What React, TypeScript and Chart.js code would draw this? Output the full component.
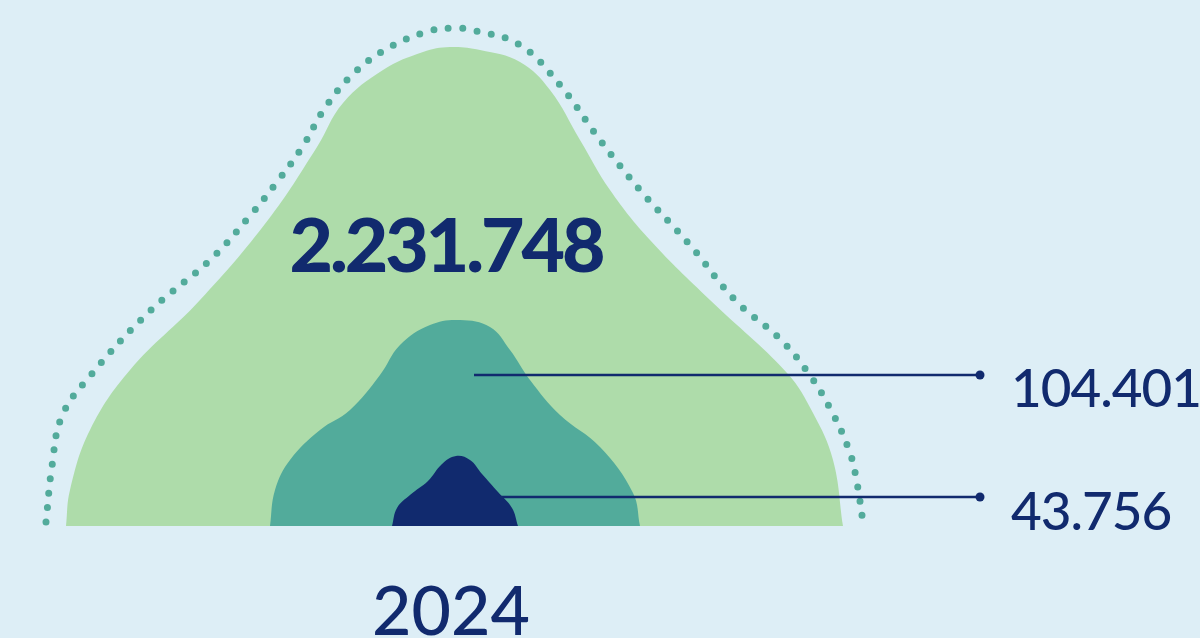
import React, { useEffect, useRef } from "react";
import { Chart, registerables } from "chart.js";

Chart.register(...registerables);

// Shape profiles: x position and height above the baseline
const outlineX = [46, 52, 62, 90, 150, 210, 249, 277, 303, 323, 349, 383, 423, 451, 476, 520, 560, 600, 640, 690, 735, 780, 809, 832, 850, 857, 863];
const outlineH = [4, 60, 110, 150, 215, 266, 309, 344, 380, 415, 448, 475, 493, 498, 495, 481, 441, 386, 336, 281, 226, 187, 152, 114, 73, 43, 4];

const bigX = [66, 70, 90, 130, 200, 268, 317, 343, 383, 423, 450, 480, 520, 550, 580, 610, 650, 710, 787, 813, 833, 843];
const bigH = [0, 36, 96, 156, 226, 306, 379, 423, 456, 474, 479, 476, 464, 436, 386, 336, 286, 226, 153, 113, 66, 0];

const midX = [270, 275, 290, 320, 350, 380, 400, 430, 460, 490, 510, 530, 560, 600, 633, 640];
const midH = [0, 36, 66, 96, 116, 151, 181, 201, 206, 199, 176, 146, 111, 79, 33, 0];

const smallX = [392, 397, 410, 428, 442, 456, 470, 482, 498, 512, 518];
const smallH = [0, 18, 31, 45, 62, 70, 66, 52, 34, 18, 0];

const categories = ["Total", "Segment A", "Segment B"];
const values = ["2.231.748", "104.401", "43.756"];
const yearLabel = "2024";

const leaderStartX = [474, 500];
const leaderEndX = [980, 980];
const leaderH = [151, 29];

const NAVY = "#112a6e";
const GREEN = "#aedcaa";
const TEAL = "#52ab9b";
const BG = "#ddeef6";

const toPts = (xs: number[], hs: number[]) => xs.map((x, i) => ({ x, y: hs[i] }));

export default function App() {
  const ref = useRef<HTMLCanvasElement | null>(null);

  useEffect(() => {
    document.body.style.margin = "0";
    const canvas = ref.current;
    if (!canvas) return;

    const labelPlugin = {
      id: "labels",
      afterDraw(chart: any) {
        const { ctx, scales } = chart;
        const xs = scales.x;
        const ys = scales.y;
        ctx.save();
        ctx.fillStyle = NAVY;
        ctx.textBaseline = "alphabetic";
        // main value
        ctx.font = "900 75px Lato";
        (ctx as any).letterSpacing = "-3px";
        ctx.textAlign = "center";
        ctx.fillText(values[0], xs.getPixelForValue(446), ys.getPixelForValue(254));
        // side values
        ctx.font = "500 53px Lato";
        (ctx as any).letterSpacing = "-1px";
        ctx.textAlign = "left";
        ctx.fillText(values[1], xs.getPixelForValue(1011), ys.getPixelForValue(leaderH[0] - 32));
        ctx.fillText(values[2], xs.getPixelForValue(1011), ys.getPixelForValue(leaderH[1] - 33));
        // year
        ctx.font = "500 68px Lato";
        (ctx as any).letterSpacing = "0px";
        ctx.textAlign = "center";
        ctx.fillText(yearLabel, xs.getPixelForValue(451), ys.getPixelForValue(-109));
        ctx.restore();
      },
    };

    const chart = new Chart(canvas, {
      type: "scatter",
      data: {
        datasets: [
          ...leaderH.map((h, i) => ({
            label: categories[i + 1] + " leader",
            data: [
              { x: leaderStartX[i], y: h },
              { x: leaderEndX[i], y: h },
            ],
            showLine: true,
            borderColor: NAVY,
            backgroundColor: NAVY,
            borderWidth: 2.5,
            pointRadius: [0, 4.5],
            pointBorderWidth: 0,
            fill: false,
            tension: 0,
          })),
          {
            label: categories[2],
            data: toPts(smallX, smallH),
            showLine: true,
            borderWidth: 0,
            borderColor: NAVY,
            backgroundColor: NAVY,
            pointRadius: 0,
            fill: "origin",
            tension: 0.4,
          },
          {
            label: categories[1],
            data: toPts(midX, midH),
            showLine: true,
            borderWidth: 0,
            borderColor: TEAL,
            backgroundColor: TEAL,
            pointRadius: 0,
            fill: "origin",
            tension: 0.4,
          },
          {
            label: categories[0],
            data: toPts(bigX, bigH),
            showLine: true,
            borderWidth: 0,
            borderColor: GREEN,
            backgroundColor: GREEN,
            pointRadius: 0,
            fill: "origin",
            tension: 0.4,
          },
          {
            label: "outline",
            data: toPts(outlineX, outlineH),
            showLine: true,
            borderWidth: 7,
            borderColor: TEAL,
            borderDash: [0, 14.5],
            borderCapStyle: "round",
            pointRadius: 0,
            fill: false,
            tension: 0.4,
          },
        ] as any,
      },
      options: {
        animation: false,
        responsive: false,
        layout: { padding: 0, autoPadding: false },
        plugins: { legend: { display: false }, tooltip: { enabled: false } },
        scales: {
          x: { type: "linear", min: 0, max: 1200, display: false },
          y: { type: "linear", min: -112, max: 526, display: false },
        },
      },
      plugins: [labelPlugin],
    });

    return () => chart.destroy();
  }, []);

  return (
    <div style={{ position: "fixed", left: 0, top: 0, width: 1200, height: 638, background: BG }}>
      <canvas ref={ref} width={1200} height={638} style={{ width: 1200, height: 638, display: "block" }} />
    </div>
  );
}
